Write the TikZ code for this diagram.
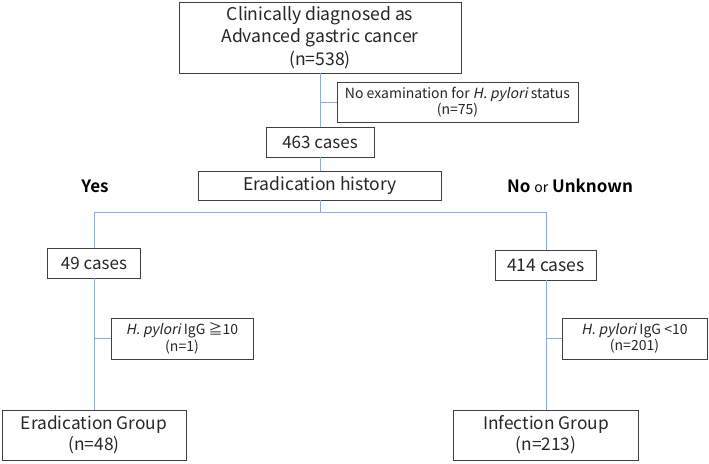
\documentclass[tikz,border=0pt]{standalone}
\usepackage{fontspec}
\setmainfont{Noto Sans CJK JP}[ItalicFont={Noto Sans CJK JP}, ItalicFeatures={FakeSlant=0.2}, BoldFont={Noto Sans CJK JP Bold}]
\definecolor{linkblue}{HTML}{8FAADC}
\definecolor{boxgray}{HTML}{404040}
\tikzset{
  box/.style={draw=boxgray, line width=0.9pt, inner sep=0pt, align=center, text=black!85},
  link/.style={draw=linkblue, line width=1pt},
}
\begin{document}
\begin{tikzpicture}[x=1pt,y=-1pt]
\useasboundingbox (0,0) rectangle (709,463);
\node[box, minimum width=282pt, minimum height=71pt, font=\fontsize{17.6}{22.5}\selectfont] (top) at (320,37.5) {Clinically diagnosed as\\Advanced gastric cancer\\(n=538)};
\node[box, minimum width=241pt, minimum height=40pt, font=\fontsize{14}{16}\selectfont] (side) at (457.5,102) {No examination for \textit{H. pylori} status\\(n=75)};
\node[box, minimum width=108pt, minimum height=30pt, font=\fontsize{17}{20}\selectfont] (n463) at (320,142) {463 cases};
\node[box, minimum width=243pt, minimum height=29pt, font=\fontsize{17.5}{20}\selectfont] (erad) at (320,185.5) {Eradication history};
\node[font=\fontsize{17}{20}\selectfont\bfseries] (yes) at (95,186) {Yes};
\node[font=\fontsize{17}{20}\selectfont] (nou) at (570,186) {\textbf{No} {\fontsize{14}{20}\selectfont or} \textbf{Unknown}};
\node[box, minimum width=93pt, minimum height=30pt, font=\fontsize{17}{20}\selectfont] (n49) at (94,263) {49 cases};
\node[box, minimum width=101pt, minimum height=30pt, font=\fontsize{17.5}{20}\selectfont] (n414) at (546,265) {414 cases};
\node[box, minimum width=142pt, minimum height=41pt, font=\fontsize{14}{16.5}\selectfont] (igg1) at (182,338.5) {\textit{H. pylori} IgG ≧10\\(n=1)};
\node[box, minimum width=145pt, minimum height=41pt, font=\fontsize{14}{16.5}\selectfont] (igg2) at (634.5,338.5) {\textit{H. pylori} IgG <10\\(n=201)};
\node[box, minimum width=184pt, minimum height=50pt, font=\fontsize{17.3}{21}\selectfont] (eg) at (94,435) {Eradication Group\\(n=48)};
\node[box, minimum width=185pt, minimum height=50pt, font=\fontsize{17.3}{21}\selectfont] (ig) at (546,435) {Infection Group\\(n=213)};
\draw[link] (top.south) -- (n463.north);
\draw[link] (side.west) -- (side.west -| top.south);
\draw[link] (n463.south) -- (erad.north);
\draw[link] (erad.south) -- ++(0,12) coordinate (split);
\draw[link] (n49.north) |- (split) -| (n414.north);
\draw[link] (n49.south) -- (eg.north);
\draw[link] (n414.south) -- (ig.north);
\draw[link] (igg1.west) -- (igg1.west -| n49.south);
\draw[link] (igg2.west) -- (igg2.west -| n414.south);
\end{tikzpicture}
\end{document}
